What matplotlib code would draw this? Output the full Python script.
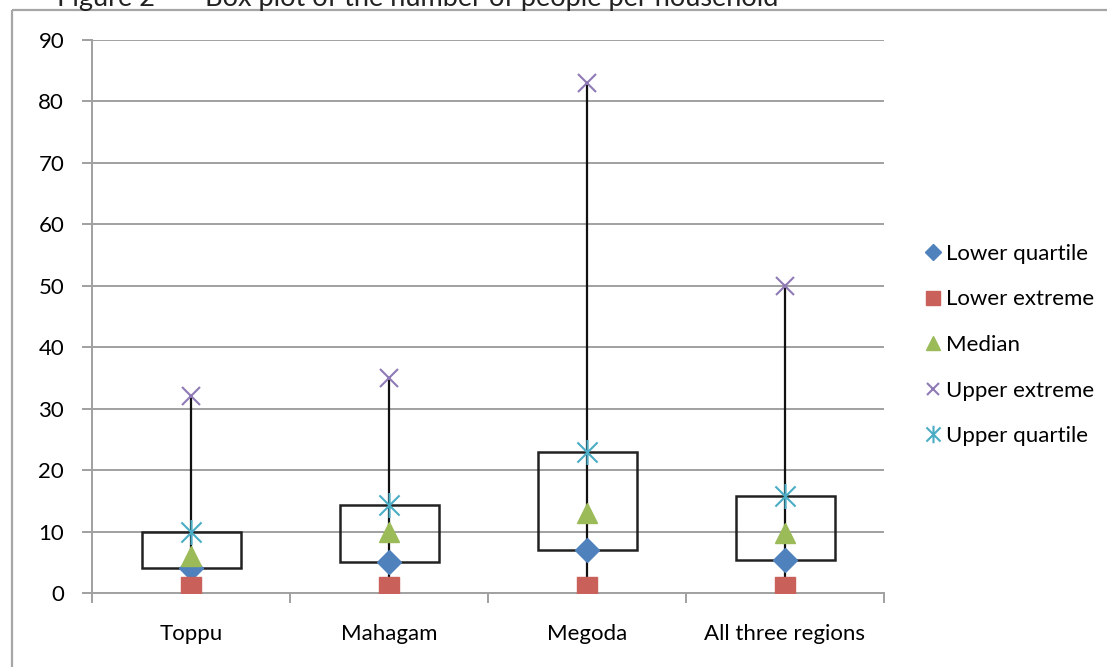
import matplotlib
matplotlib.use("Agg")
import matplotlib.pyplot as plt
from matplotlib.path import Path
from matplotlib.lines import Line2D
import numpy as np

# Household size summary per region
regions = ["Toppu", "Mahagam", "Megoda", "All three regions"]
lower_extreme = [1, 1, 1, 1]
lower_quartile = [4, 5, 7, 5.4]
median = [6, 10, 13, 9.7]
upper_quartile = [10, 14.3, 23, 15.8]
upper_extreme = [32, 35, 83, 50]
y_ticks = [0, 10, 20, 30, 40, 50, 60, 70, 80, 90]

plt.rcParams["font.family"] = ["Lato", "DejaVu Sans"]

W, H = 1107, 667
fig = plt.figure(figsize=(W / 100, H / 100), dpi=100)
fig.patch.set_facecolor("white")

# Chart frame (runs off the right and bottom edges)
frame_col = "#a6a6a6"
fig.add_artist(Line2D([12 / W, 12 / W], [1 - 10 / H, 0], transform=fig.transFigure,
                      color=frame_col, lw=1.6, solid_capstyle="butt"))
fig.add_artist(Line2D([12 / W, 1], [1 - 10 / H, 1 - 10 / H], transform=fig.transFigure,
                      color=frame_col, lw=1.6, solid_capstyle="butt"))

# Caption line sitting above the frame
fig.text(57 / W, 1 - 6 / H, "Figure 2", fontsize=19.5, va="baseline", ha="left",
         color="#222222")
fig.text(205 / W, 1 - 6 / H, "Box plot of the number of people per household",
         fontsize=19.5, va="baseline", ha="left", color="#222222")

ax = fig.add_axes([92 / W, 1 - 593 / H, (884 - 92) / W, (593 - 40) / H])
ax.set_xlim(0, len(regions))
ax.set_ylim(0, 90)

grid_col = "#a0a0a0"
fs = 16
ax.set_yticks(y_ticks)
ax.set_yticklabels([str(t) for t in y_ticks], fontsize=fs)
for t in y_ticks[1:]:
    ax.axhline(t, color=grid_col, lw=1.4, zorder=0)

ax.set_xticks(np.arange(len(regions) + 1))
ax.set_xticklabels([])
ax.set_xticks(np.arange(len(regions)) + 0.5, minor=True)
ax.set_xticklabels(regions, minor=True, fontsize=fs)
ax.tick_params(axis="x", which="minor", length=0, pad=22)
ax.tick_params(axis="x", which="major", length=7, width=1.4, color=grid_col, direction="out")
ax.tick_params(axis="y", length=7, width=1.4, color=grid_col, direction="out", pad=13)

for side in ["top", "right"]:
    ax.spines[side].set_visible(False)
for side in ["left", "bottom"]:
    ax.spines[side].set_color(grid_col)
    ax.spines[side].set_linewidth(1.4)

xs = np.arange(len(regions)) + 0.5

# Whiskers from lower to upper extreme
ax.vlines(xs, lower_extreme, upper_extreme, color="#111111", lw=1.6, zorder=2)

# Interquartile boxes
box_h = np.array(upper_quartile) - np.array(lower_quartile)
ax.bar(xs, box_h, bottom=lower_quartile, width=0.5, fill=False,
       edgecolor="#222222", linewidth=1.8, zorder=2)

# Excel-style star marker: an X crossed by a vertical stroke
star_path = Path(
    [(-0.5, -0.5), (0.5, 0.5), (-0.5, 0.5), (0.5, -0.5), (0, -0.62), (0, 0.62)],
    [Path.MOVETO, Path.LINETO, Path.MOVETO, Path.LINETO, Path.MOVETO, Path.LINETO],
)

ax.plot(xs, lower_quartile, linestyle="none", marker="D", markersize=12,
        color="#4f81bd", markeredgecolor="#4f81bd", label="Lower quartile", zorder=4)
ax.plot(xs, lower_extreme, linestyle="none", marker="s", markersize=14,
        color="#c9605a", markeredgecolor="#c9605a", label="Lower extreme", zorder=4)
ax.plot(xs, median, linestyle="none", marker="^", markersize=14,
        color="#9bbb59", markeredgecolor="#9bbb59", label="Median", zorder=4)
ax.plot(xs, upper_extreme, linestyle="none", marker="x", markersize=13,
        color="#8f7ab5", markeredgewidth=1.5, label="Upper extreme", zorder=4)
ax.plot(xs, upper_quartile, linestyle="none", marker=star_path, markersize=18,
        color="#4bacc6", markerfacecolor="none", markeredgewidth=1.5,
        label="Upper quartile", zorder=4)

leg = ax.legend(loc="center left", bbox_to_anchor=(905 / W, 1 - 345 / H),
                bbox_transform=fig.transFigure, frameon=False, fontsize=fs,
                handlelength=0.7, handletextpad=0.25, labelspacing=1.15,
                markerscale=0.7)

fig.savefig("out.png", dpi=100, facecolor="white")
